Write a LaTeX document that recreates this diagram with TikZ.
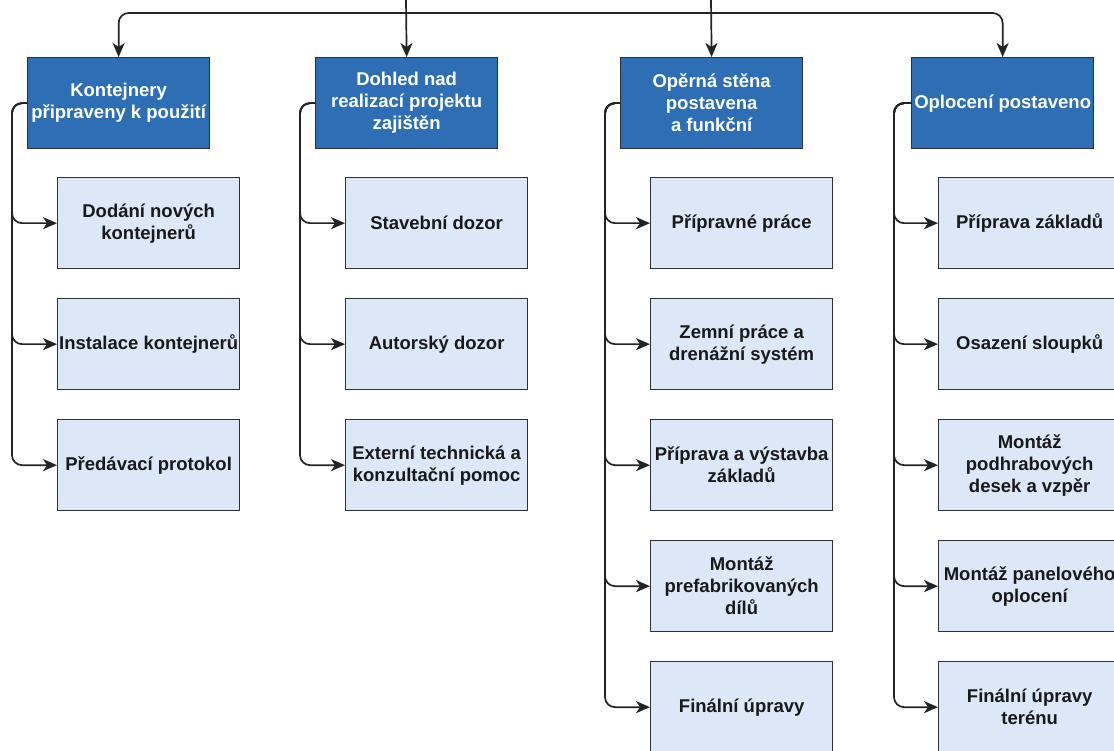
\documentclass[tikz,border=0pt]{standalone}
\usepackage{fontspec}
\setmainfont{Liberation Sans}
\usetikzlibrary{arrows.meta}
\definecolor{headblue}{RGB}{46,110,181}
\definecolor{taskblue}{RGB}{220,232,248}
\definecolor{edgegray}{RGB}{35,35,35}
\definecolor{boxline}{RGB}{45,48,52}
\begin{document}
\begin{tikzpicture}[x=1pt,y=-1pt,
  every node/.style={font=\fontsize{18.5}{22}\selectfont\bfseries, align=center, inner sep=0pt},
  headbox/.style={draw=boxline, line width=1.3pt, fill=headblue, text=white,
    minimum width=182pt, minimum height=91pt, anchor=north west},
  taskbox/.style={draw=boxline, line width=1.3pt, fill=taskblue, text=black!90,
    minimum width=182pt, minimum height=91pt, anchor=north west},
  conn/.style={draw=edgegray, line width=1.7pt, rounded corners=10pt,
    -{Stealth[length=14pt,width=12pt,inset=4pt]}},
  plain/.style={draw=edgegray, line width=1.7pt, rounded corners=10pt}]
\useasboundingbox (0,0) rectangle (1114,751);
\fill[white] (0,0) rectangle (1114,751);

% header row
\node[headbox] (h1) at (27,57)  {Kontejnery\\připraveny k použití};
\node[headbox] (h2) at (315,57) {Dohled nad\\realizací projektu\\zajištěn};
\node[headbox] (h3) at (620,57) {Opěrná stěna\\postavena\\a funkční};
\node[headbox] (h4) at (911,57) {Oplocení postaveno};

% column 1
\node[taskbox] (a1) at (57,177) {Dodání nových\\kontejnerů};
\node[taskbox] (a2) at (57,298) {Instalace kontejnerů};
\node[taskbox] (a3) at (57,419) {Předávací protokol};

% column 2
\node[taskbox] (b1) at (345,177) {Stavební dozor};
\node[taskbox] (b2) at (345,298) {Autorský dozor};
\node[taskbox] (b3) at (345,419) {Externí technická a\\konzultační pomoc};

% column 3
\node[taskbox] (c1) at (650,177) {Přípravné práce};
\node[taskbox] (c2) at (650,298) {Zemní práce a\\drenážní systém};
\node[taskbox] (c3) at (650,419) {Příprava a výstavba\\základů};
\node[taskbox] (c4) at (650,540) {Montáž\\prefabrikovaných\\dílů};
\node[taskbox] (c5) at (650,661) {Finální úpravy};

% column 4
\node[taskbox] (d1) at (938,177) {Příprava základů};
\node[taskbox] (d2) at (938,298) {Osazení sloupků};
\node[taskbox] (d3) at (938,419) {Montáž\\podhrabových\\desek a vzpěr};
\node[taskbox] (d4) at (938,540) {Montáž panelového\\oplocení};
\node[taskbox] (d5) at (938,661) {Finální úpravy\\terénu};

% links from the top level
\coordinate (r1) at (406,0);
\coordinate (r2) at (711,0);
\coordinate (j1) at (406,13);
\coordinate (j2) at (711,13);
\draw[conn] (r1) -- (h2.north);
\draw[conn] (r2) -- (h3.north);
\draw[plain] (j1) -- (j2);
\draw[conn] (j1) -| (h1.north);
\draw[conn] (j2) -| (h4.north);

% links from each header to its tasks
\foreach \t in {a1,a2,a3} \draw[conn] (h1.west) -- ++(-15,0) |- (\t.west);
\foreach \t in {b1,b2,b3} \draw[conn] (h2.west) -- ++(-15,0) |- (\t.west);
\foreach \t in {c1,c2,c3,c4,c5} \draw[conn] (h3.west) -- ++(-15,0) |- (\t.west);
\foreach \t in {d1,d2,d3,d4,d5} \draw[conn] (h4.west) -- ++(-17,0) |- (\t.west);
\end{tikzpicture}
\end{document}
